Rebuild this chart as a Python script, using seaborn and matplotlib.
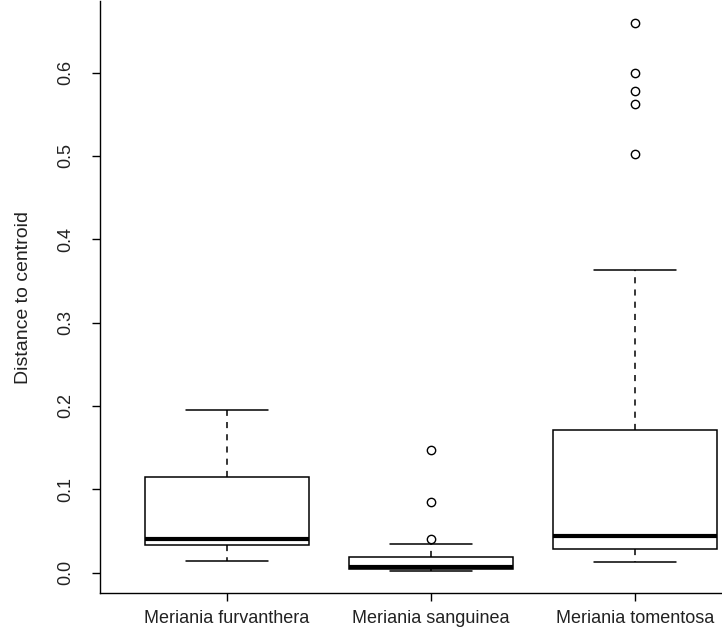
import numpy as np
import pandas as pd
import matplotlib
matplotlib.use("Agg")
import matplotlib.pyplot as plt
import seaborn as sns

# Box summaries per species (distance to group centroid)
species = ["Meriania furvanthera", "Meriania sanguinea", "Meriania tomentosa"]
whisker_low = [0.0134, 0.0020, 0.0122]
q1 = [0.0334, 0.0045, 0.0282]
median = [0.0400, 0.0070, 0.0442]
q3 = [0.1150, 0.0182, 0.1716]
whisker_high = [0.1947, 0.0339, 0.3630]
outliers = [
    [],
    [0.0405, 0.0846, 0.1470],
    [0.5020, 0.5620, 0.5780, 0.6000, 0.6590],
]

# Long-form table whose quartiles / whisker ends reproduce the summaries
reps = 10
rows = []
for i, sp in enumerate(species):
    vals = ([whisker_low[i]] + [q1[i]] * reps + [median[i]] * reps
            + [q3[i]] * reps + [whisker_high[i]] + list(outliers[i]))
    rows += [(sp, v) for v in vals]
df = pd.DataFrame(rows, columns=["species", "distance"])

sns.set_style("ticks")
plt.rcParams["font.family"] = ["Liberation Sans", "DejaVu Sans"]

fig = plt.figure(figsize=(7.22, 6.4), dpi=100)
ax = fig.add_axes([100 / 722, 47 / 640, 622 / 722, 592 / 640])

sns.boxplot(
    data=df, x="species", y="distance", order=species,
    color="white", saturation=1, linecolor="black", linewidth=1.1,
    width=0.8, whis=1.5, ax=ax,
    medianprops=dict(linewidth=3.0, color="black"),
    whiskerprops=dict(linestyle=(0, (4, 4)), linewidth=1.1),
    capprops=dict(linewidth=1.1),
    flierprops=dict(marker="o", markerfacecolor="none",
                    markeredgecolor="black", markeredgewidth=1.0,
                    markersize=6),
)

ax.set_xlim(-0.6225, 2.4265)
ax.set_ylim(-0.0246, 0.686)
yt = [0.0, 0.1, 0.2, 0.3, 0.4, 0.5, 0.6]
ax.set_yticks(yt)
ax.set_yticklabels([f"{v:.1f}" for v in yt], rotation=90, va="center")

ax.set_xlabel("")
ax.set_ylabel("Distance to centroid", fontsize=14, color="#222222")
ax.yaxis.set_label_coords(-0.109, 0.5)

for s in ["top", "right"]:
    ax.spines[s].set_visible(False)
for s in ["left", "bottom"]:
    ax.spines[s].set_color("black")
    ax.spines[s].set_linewidth(1.0)

ax.tick_params(axis="both", direction="out", length=5.8, width=1.0,
               color="black", labelsize=13, labelcolor="#222222")
ax.tick_params(axis="y", pad=13)
ax.tick_params(axis="x", pad=6.5)

fig.savefig("out.png", dpi=100)
